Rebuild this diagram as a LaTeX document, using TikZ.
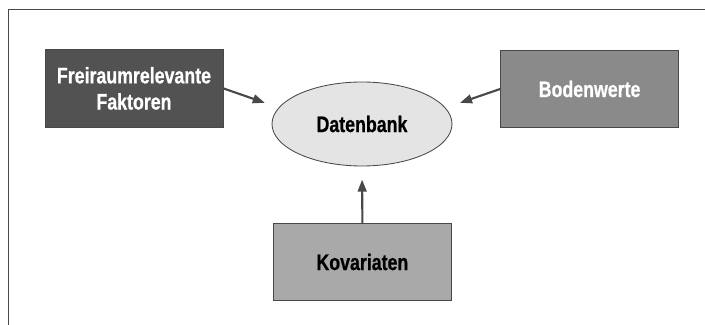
\documentclass[tikz,border=0pt]{standalone}
\usepackage{fontspec}
\setmainfont{Liberation Sans}[FakeStretch=0.79, BoldFeatures={FakeBold=0.6}]
\usepackage{tikz}
\usetikzlibrary{arrows.meta, shapes.geometric}

\definecolor{darkbox}{HTML}{525252}
\definecolor{midbox}{HTML}{8A8A8A}
\definecolor{lightbox}{HTML}{A9A9A9}
\definecolor{dbfill}{HTML}{E4E4E4}
\definecolor{rim}{HTML}{484848}

\begin{document}
\begin{tikzpicture}[
		scale=1,
		every node/.style={draw=rim, line width=0.6pt, align=center,
			font=\bfseries\fontsize{16}{18.6}\selectfont},
		factorbox/.style={rectangle, minimum width=4.45cm, minimum height=1.94cm},
		arr/.style={draw=rim, line width=1.5pt, -{Triangle[length=3mm, width=2.2mm]}}
	]
  \useasboundingbox (0cm, 0cm) rectangle (17.625cm, -8.125cm);
  \draw [rim, line width=0.7pt] (0.2cm, -8.125cm) -- (0.2cm, -0.225cm) -- (17.625cm, -0.225cm);
  \node (freiraum) [factorbox, fill=darkbox, text=white] at (3.35cm, -2.21cm) {Freiraumrelevante\\Faktoren};
  \node (boden) [factorbox, fill=midbox, text=white] at (14.74cm, -2.225cm) {Bodenwerte};
  \node (kovar) [factorbox, fill=lightbox, text=black] at (9.06cm, -6.55cm) {Kovariaten};
  \node (daten) [ellipse, fill=dbfill, text=black, minimum width=4.5cm, minimum height=2.1cm, inner sep=0pt] at (9.05cm, -3.1cm) {Datenbank};
  \coordinate (freiTip) at (6.62cm, -2.57cm);
  \coordinate (bodenTip) at (11.5cm, -2.57cm);
  \draw [arr] (freiraum.east) -- (freiTip);
  \draw [arr] (boden.west) -- (bodenTip);
  \draw [arr, shorten >=0.33cm] (kovar.north) -- (daten.south);
\end{tikzpicture}
\end{document}
